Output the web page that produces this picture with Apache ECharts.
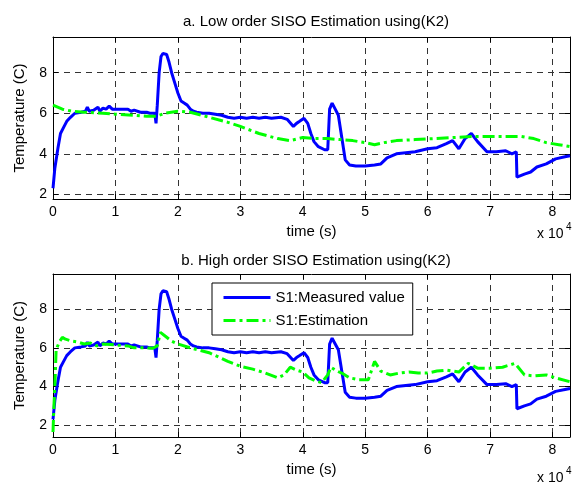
<!DOCTYPE html>
<html>
<head>
<meta charset="utf-8">
<script src="https://cdn.jsdelivr.net/npm/echarts@6/dist/echarts.min.js"></script>
<style>
  html, body { margin: 0; padding: 0; background: #fff; }
  #chart { width: 577px; height: 482px; }
</style>
</head>
<body>
<div id="chart"></div>
<script>
// time in seconds, temperature in C
const measured = [
  [0, 2.3], [300, 3.3], [800, 4.3], [1200, 5.0], [1700, 5.3], [2200, 5.6], [2800, 5.8],
  [3500, 6.0], [4500, 6.05], [5200, 6.1], [5500, 6.3], [5800, 6.1], [6500, 6.15],
  [7200, 6.3], [7500, 6.1], [8000, 6.25], [8500, 6.2], [9000, 6.35], [9500, 6.2],
  [10500, 6.2], [12000, 6.2], [12500, 6.1], [13000, 6.15], [14000, 6.05], [15000, 6.05],
  [15500, 6.0], [16300, 6.0], [16500, 5.5], [16700, 6.4], [17000, 8.0], [17300, 8.8],
  [17600, 8.95], [18200, 8.9], [18600, 8.5], [19000, 8.0], [19500, 7.5], [20000, 7.0],
  [20500, 6.6], [21000, 6.5], [21500, 6.4], [22000, 6.2], [22500, 6.1], [23000, 6.05],
  [24000, 6.0], [25000, 6.0], [26000, 5.95], [27000, 5.9], [28000, 5.8], [29000, 5.75],
  [30000, 5.8], [31000, 5.75], [32000, 5.8], [33000, 5.75], [34000, 5.8], [35000, 5.75],
  [36500, 5.8], [37500, 5.7], [38500, 5.35], [39000, 5.5], [39500, 5.6], [40200, 5.75],
  [40800, 5.5], [41300, 5.0], [41800, 4.6], [42500, 4.35], [43500, 4.2], [44000, 4.2],
  [44300, 6.2], [44700, 6.5], [45200, 6.2], [45700, 5.9], [46300, 4.7], [46800, 3.7],
  [47500, 3.45], [48500, 3.4], [50000, 3.4], [51500, 3.45], [52500, 3.5], [53500, 3.8],
  [55000, 4.0], [56500, 4.05], [58000, 4.1], [60000, 4.25], [61500, 4.3], [63000, 4.5],
  [64000, 4.65], [65000, 4.25], [66000, 4.75], [67000, 5.0], [68000, 4.6], [69500, 4.1],
  [71000, 4.1], [72500, 4.15], [73500, 4.0], [74200, 4.1], [74300, 2.85], [75500, 3.0],
  [76500, 3.1], [77500, 3.35], [79000, 3.5], [80500, 3.75], [82000, 3.85], [82800, 3.9]
];
const lowOrderEst = [
  [0, 6.4], [1500, 6.2], [3000, 6.1], [5000, 6.05], [8000, 6.0], [10000, 5.95],
  [13000, 5.9], [15000, 5.85], [16500, 5.85], [18000, 6.0], [20000, 6.1], [22000, 6.05],
  [25000, 5.8], [28000, 5.55], [30000, 5.35], [33000, 5.0], [36000, 4.75], [38000, 4.65],
  [40000, 4.8], [42000, 4.75], [44000, 4.75], [46000, 4.7], [48000, 4.65], [50000, 4.55],
  [51500, 4.45], [53000, 4.55], [55000, 4.65], [58000, 4.7], [61000, 4.75], [64000, 4.8],
  [67000, 4.85], [70000, 4.85], [73000, 4.85], [75000, 4.85], [77000, 4.75], [79000, 4.55],
  [81000, 4.45], [82800, 4.35]
];
const highOrderEst = [
  [0, 1.65], [150, 3.0], [300, 4.0], [500, 5.9], [1000, 6.3], [1500, 6.55], [2000, 6.45],
  [3000, 6.35], [4000, 6.3], [5000, 6.2], [6000, 6.25], [7000, 6.1], [8000, 6.2],
  [10000, 6.15], [12000, 6.1], [13000, 6.0], [15000, 6.0], [16000, 5.98], [16700, 6.1],
  [17200, 6.8], [18000, 6.6], [19000, 6.35], [20000, 6.2], [22000, 6.0], [25000, 5.75],
  [28000, 5.3], [30000, 5.05], [32000, 4.9], [34000, 4.7], [36000, 4.45], [37000, 4.6],
  [38000, 5.0], [39000, 4.85], [40000, 4.75], [41000, 4.45], [42000, 4.3], [43000, 4.2],
  [44000, 4.6], [44500, 5.0], [45500, 4.8], [46500, 4.65], [47500, 4.45], [49000, 4.35],
  [50500, 4.35], [51500, 5.3], [52500, 4.8], [54000, 4.6], [55500, 4.7], [57000, 4.75],
  [58500, 4.7], [60000, 4.7], [61500, 4.8], [63000, 4.85], [65000, 4.75], [66500, 5.2],
  [68000, 4.95], [70000, 4.95], [72000, 5.0], [74000, 5.2], [75500, 4.6], [77000, 4.55],
  [79000, 4.6], [80500, 4.45], [82800, 4.25]
];

const xTicks = [0, 10000, 20000, 30000, 40000, 50000, 60000, 70000, 80000];
const yTicks = [2, 4, 6, 8];
const xMax = 82800;
const yRanges = [[1.77, 9.76], [1.39, 9.82]];
const titles = ['a. Low order SISO Estimation using(K2)', 'b. High order SISO Estimation using(K2)'];
const seriesNames = ['S1:Measured value', 'S1:Estimation'];

const FONT = '"Liberation Sans", Arial, sans-serif';
const grids = [
  { left: 53, top: 37, width: 517, height: 162 },
  { left: 53, top: 274, width: 517, height: 163 },
];

const gridLine = { show: true, lineStyle: { color: '#333', width: 1, type: [6, 5] } };
const frameLine = { show: true, onZero: false, lineStyle: { color: '#000', width: 1 } };

const xAxis = [], yAxis = [];
grids.forEach((g, i) => {
  xAxis.push({
    gridIndex: i, type: 'value', min: 0, max: xMax, position: 'bottom',
    name: 'time (s)', nameLocation: 'middle', nameGap: 25,
    nameTextStyle: { color: '#000', fontSize: 15, fontFamily: FONT },
    axisLine: frameLine,
    axisTick: { inside: true, length: 5, customValues: xTicks, lineStyle: { color: '#000' } },
    axisLabel: { customValues: xTicks, color: '#000', fontSize: 14, fontFamily: FONT, margin: 6,
      formatter: v => String(v / 10000) },
    splitLine: gridLine,
  });
  xAxis.push({
    gridIndex: i, type: 'value', min: 0, max: xMax, position: 'top',
    axisLine: frameLine,
    axisTick: { inside: true, length: 5, customValues: xTicks, lineStyle: { color: '#000' } },
    axisLabel: { show: false },
    splitLine: { show: false },
  });
  yAxis.push({
    gridIndex: i, type: 'value', min: yRanges[i][0], max: yRanges[i][1], position: 'left',
    name: 'Temperature (C)', nameLocation: 'middle', nameGap: 26,
    nameTextStyle: { color: '#000', fontSize: 15, fontFamily: FONT },
    axisLine: frameLine,
    axisTick: { inside: true, length: 5, customValues: yTicks, lineStyle: { color: '#000' } },
    axisLabel: { customValues: yTicks, color: '#000', fontSize: 14, fontFamily: FONT, margin: 6 },
    splitLine: gridLine,
  });
  yAxis.push({
    gridIndex: i, type: 'value', min: yRanges[i][0], max: yRanges[i][1], position: 'right',
    axisLine: frameLine,
    axisTick: { inside: true, length: 5, customValues: yTicks, lineStyle: { color: '#000' } },
    axisLabel: { show: false },
    splitLine: { show: false },
  });
});

const blueStyle = { color: '#0000ff', width: 3 };
const greenStyle = { color: '#00ff00', width: 3, type: [12, 4, 3, 4] };

function lineSeries(name, data, idx, style) {
  return {
    name, type: 'line', data, xAxisIndex: idx * 2, yAxisIndex: idx * 2,
    symbol: 'none', showSymbol: false, color: style.color,
    lineStyle: style, animation: false, z: 3,
  };
}

const chart = echarts.init(document.getElementById('chart'), null, { renderer: 'canvas' });
chart.setOption({
  backgroundColor: '#fff',
  animation: false,
  textStyle: { fontFamily: FONT },
  title: titles.map((t, i) => ({
    text: t, left: 311, top: i === 0 ? 9 : 248, textAlign: 'center',
    textStyle: { fontSize: 15, fontWeight: 'normal', color: '#000', fontFamily: FONT },
  })),
  grid: grids,
  xAxis, yAxis,
  legend: {
    data: seriesNames,
    orient: 'vertical',
    left: 212, top: 283,
    padding: [7, 8, 7, 10],
    itemWidth: 47, itemHeight: 14, itemGap: 8,
    itemStyle: { opacity: 0 },
    lineStyle: { width: 3 },
    backgroundColor: '#fff',
    borderColor: '#000', borderWidth: 1, borderRadius: 0,
    textStyle: { fontSize: 15, color: '#000', fontFamily: FONT },
  },
  graphic: [
    { type: 'text', left: 537, top: 227, style: { text: 'x 10', fontSize: 14, fontFamily: FONT, fill: '#000' } },
    { type: 'text', left: 566, top: 222, style: { text: '4', fontSize: 10, fontFamily: FONT, fill: '#000' } },
    { type: 'text', left: 537, top: 471, style: { text: 'x 10', fontSize: 14, fontFamily: FONT, fill: '#000' } },
    { type: 'text', left: 566, top: 466, style: { text: '4', fontSize: 10, fontFamily: FONT, fill: '#000' } },
  ],
  series: [
    lineSeries('measured (a)', measured, 0, blueStyle),
    lineSeries('estimation (a)', lowOrderEst, 0, greenStyle),
    lineSeries(seriesNames[0], measured, 1, blueStyle),
    lineSeries(seriesNames[1], highOrderEst, 1, greenStyle),
  ],
});
</script>
</body>
</html>
